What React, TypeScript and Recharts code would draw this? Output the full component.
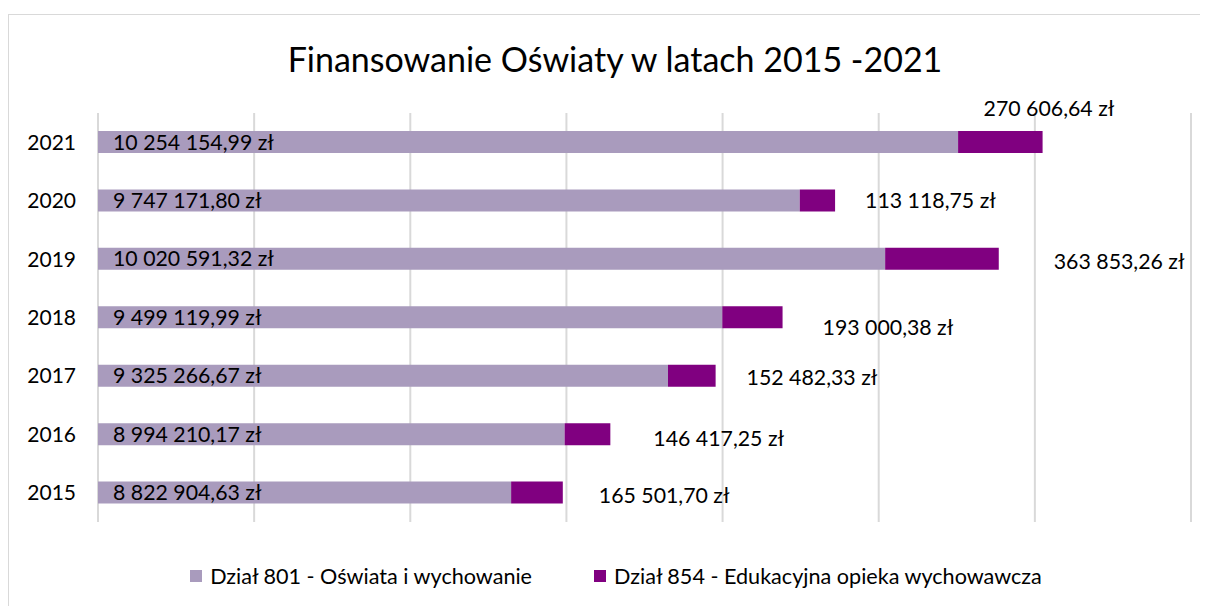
import React from 'react';
import { BarChart, Bar, XAxis, YAxis, CartesianGrid, Legend, LabelList } from 'recharts';

const years = ['2015', '2016', '2017', '2018', '2019', '2020', '2021'];
const dzial801 = [8822904.63, 8994210.17, 9325266.67, 9499119.99, 10020591.32, 9747171.8, 10254154.99];
const dzial854 = [165501.7, 146417.25, 152482.33, 193000.38, 363853.26, 113118.75, 270606.64];
const xTicks = [7500000, 8000000, 8500000, 9000000, 9500000, 10000000, 10500000, 11000000];

const series801 = 'Dział 801 - Oświata i wychowanie';
const series854 = 'Dział 854 - Edukacyjna opieka wychowawcza';

// label offsets for the 854 values (moved by hand in the original)
const labelShift = [
  [36, 3], [43, 4], [31, 2], [40, 10], [55, 3], [30, 0], [-59, -33],
];

const data = years.map((year, i) => ({ year, d801: dzial801[i], d854: dzial854[i] }));

const FONT = 'Lato, "Open Sans", sans-serif';
const LIGHT = '#a99bbd';
const DARK = '#800080';

function formatPln(v: number) {
  const [int, dec] = v.toFixed(2).split('.');
  return int.replace(/\B(?=(\d{3})+(?!\d))/g, ' ') + ',' + dec + ' zł';
}

const SideLabel = (props: any) => {
  const { x, y, width, height, value, index } = props;
  const [dx, dy] = labelShift[index] || [30, 0];
  return (
    <text x={x + width + dx} y={y + height / 2 + dy} dy="0.35em" fontSize={21.3} fill="#000" fontFamily={FONT}>
      {formatPln(value)}
    </text>
  );
};

const LegendBox = () => (
  <div style={{ display: 'flex', justifyContent: 'center', gap: 62, fontFamily: FONT, fontSize: 21.6, color: '#000', height: 30, alignItems: 'center', paddingLeft: 14 }}>
    {[[series801, LIGHT], [series854, DARK]].map(([name, c]) => (
      <div key={name} style={{ display: 'flex', alignItems: 'center' }}>
        <span style={{ display: 'inline-block', width: 12, height: 12, background: c, marginRight: 8 }} />
        <span>{name}</span>
      </div>
    ))}
  </div>
);

export default function App() {
  return (
    <div style={{ position: 'relative', marginTop: 6, width: 1240, height: 640, border: '1px solid #d9d9d9', fontFamily: FONT }}>
      <div style={{ position: 'absolute', left: 0, top: 23, width: 1212, textAlign: 'center', fontSize: 34, color: '#000' }}>
        Finansowanie Oświaty w latach 2015 -2021
      </div>
      <BarChart
        layout="vertical"
        width={1200}
        height={598}
        data={data}
        barSize={22}
        margin={{ top: 98, right: 18, bottom: 61, left: 0 }}
      >
        <CartesianGrid horizontal={false} stroke="#d9d9d9" strokeWidth={2} />
        <XAxis type="number" domain={[7500000, 11000000]} ticks={xTicks} allowDataOverflow hide />
        <YAxis
          type="category"
          dataKey="year"
          reversed
          width={89}
          axisLine={false}
          tickLine={false}
          tickSize={0}
          tickMargin={22}
          tick={{ fontSize: 21, fill: '#000', fontFamily: FONT }}
        />
        <Legend content={LegendBox} wrapperStyle={{ top: 546, left: 0, width: 1200, height: 30 }} />
        <Bar dataKey="d801" name={series801} stackId="a" fill={LIGHT} isAnimationActive={false}>
          <LabelList dataKey="d801" position="insideLeft" offset={15} formatter={(v: any) => formatPln(v)} style={{ fontSize: 21.3, fill: '#000', fontFamily: FONT }} />
        </Bar>
        <Bar dataKey="d854" name={series854} stackId="a" fill={DARK} isAnimationActive={false}>
          <LabelList dataKey="d854" content={SideLabel} />
        </Bar>
      </BarChart>
    </div>
  );
}
